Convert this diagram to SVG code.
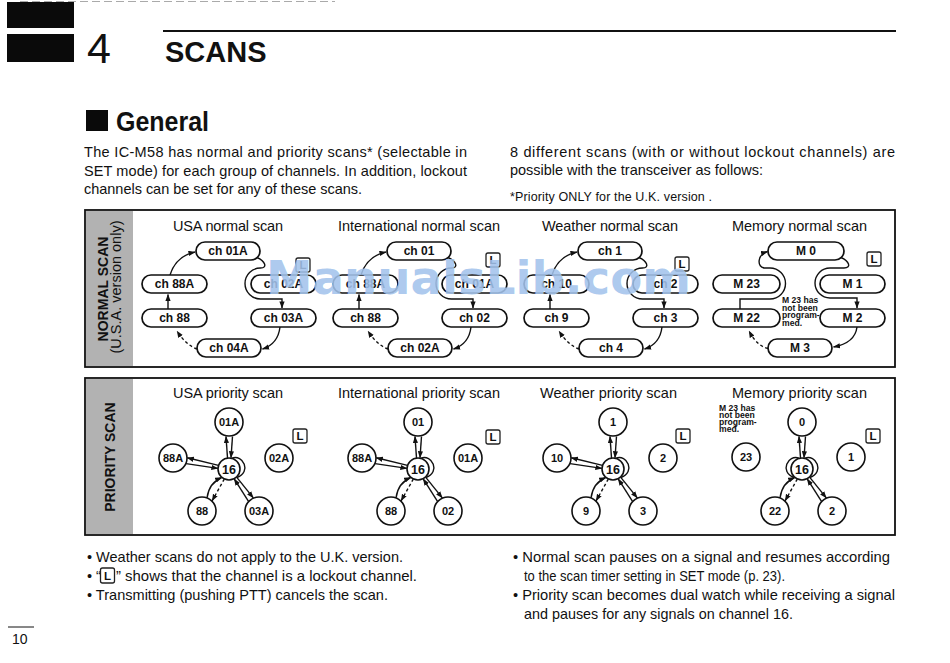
<svg xmlns="http://www.w3.org/2000/svg" width="950" height="663" viewBox="0 0 950 663">
<defs>
<marker id="ah" viewBox="0 0 8 6" refX="7.5" refY="3" markerWidth="7" markerHeight="5.5" markerUnits="userSpaceOnUse" orient="auto"><path d="M0 0 L8 3 L0 6 z" fill="#111"/></marker>
<style>
text{font-family:"Liberation Sans",Arial,sans-serif;fill:#111}
.pill{fill:#fff;stroke:#111;stroke-width:1.7}
.nt{font-weight:bold;font-size:12px;text-anchor:middle}
.circ{fill:#fff;stroke:#111;stroke-width:1.6}
.ct{font-weight:bold;font-size:11px;text-anchor:middle}
.c16{font-weight:bold;font-size:12.5px;text-anchor:middle}
.ln{fill:none;stroke:#111;stroke-width:1.4}
.dash{stroke-dasharray:3 2.5}
.lk{fill:#fff;stroke:#222;stroke-width:1.3}
.lkt{font-weight:bold;font-size:11.5px;text-anchor:middle}
.title{font-size:14.5px}
.body{font-size:14.5px}
.foot{font-size:14.5px}
.note{font-weight:bold;font-size:8.6px}
.panel{fill:#fff;stroke:#111;stroke-width:1.8}
.band{fill:#b2b2b2}
</style>
</defs>
<rect width="950" height="663" fill="#fff"/>

<!-- header -->
<g id="header">
<line x1="20" y1="1.5" x2="335" y2="1.5" stroke="#aaa" stroke-width="1" stroke-dasharray="8 4"/>
<rect x="7" y="2" width="67" height="26" fill="#0a0a0a"/>
<rect x="7" y="34" width="67" height="28" fill="#0a0a0a"/>
<text x="87" y="63" font-size="43">4</text>
<line x1="163" y1="31" x2="896" y2="31" stroke="#111" stroke-width="2"/>
<text x="165" y="62" font-size="29" font-weight="bold">SCANS</text>
<rect x="86" y="110" width="22" height="21" fill="#0a0a0a"/>
<text x="116" y="131" font-size="27" font-weight="bold" textLength="93" lengthAdjust="spacingAndGlyphs">General</text>
</g>

<g id="intro">
<text class="body" x="84" y="157" textLength="383">The IC-M58 has normal and priority scans* (selectable in</text>
<text class="body" x="84" y="175.5" textLength="383">SET mode) for each group of channels.  In addition, lockout</text>
<text class="body" x="84" y="193.5" textLength="278">channels can be set for any of these scans.</text>
<text class="body" x="510" y="157" textLength="385">8 different scans (with or without lockout channels) are</text>
<text class="body" x="510" y="175" textLength="253">possible with the transceiver as follows:</text>
<text x="510" y="201" font-size="12.5" textLength="202">*Priority ONLY for the U.K. version .</text>
</g>

<!-- panels -->
<g id="normal-panel">
<rect class="panel" x="85" y="210" width="810" height="157"/>
<rect class="band" x="86" y="211" width="47" height="155"/>
<text transform="translate(108,289) rotate(-90)" text-anchor="middle" font-weight="bold" font-size="14" fill="#1a1a1a">NORMAL SCAN</text>
<text transform="translate(121,287) rotate(-90)" text-anchor="middle" font-size="14.5" fill="#1a1a1a">(U.S.A. version only)</text>
<text class="title" x="173" y="231" textLength="110">USA normal scan</text>
<text class="title" x="338" y="231" textLength="162">International normal scan</text>
<text class="title" x="542" y="231" textLength="136">Weather normal scan</text>
<text class="title" x="732" y="231" textLength="135">Memory normal scan</text>
</g>
<g id="priority-panel">
<rect class="panel" x="85" y="378" width="810" height="157"/>
<rect class="band" x="86" y="379" width="47" height="155"/>
<text transform="translate(115,457) rotate(-90)" text-anchor="middle" font-weight="bold" font-size="14" fill="#1a1a1a">PRIORITY SCAN</text>
<text class="title" x="173" y="398" textLength="110">USA priority scan</text>
<text class="title" x="338" y="398" textLength="162">International priority scan</text>
<text class="title" x="540" y="398" textLength="137">Weather priority scan</text>
<text class="title" x="732" y="398" textLength="135">Memory priority scan</text>
</g>

<!-- connectors -->
<g id="connectors">
<g id="c-normal-usa">
<path class="ln" d="M257 257.5 C265 261 268 268 260.5 268 A15.5 15.5 0 0 0 260.5 299 L282 299 L282 308" marker-end="url(#ah)"/>
<path class="ln" d="M280 327 Q278 344 262.5 349" marker-end="url(#ah)"/>
<path class="ln dash" d="M197 349 Q186 345 177 331" marker-end="url(#ah)"/>
<path class="ln" d="M168 309 L168 294.5" marker-end="url(#ah)"/>
<path class="ln" d="M170 275 Q176 256 195 252" marker-end="url(#ah)"/>
</g>
<g id="c-normal-intl" transform="translate(191,0)">
<path class="ln" d="M257 257.5 C265 261 268 268 260.5 268 A15.5 15.5 0 0 0 260.5 299 L282 299 L282 308" marker-end="url(#ah)"/>
<path class="ln" d="M280 327 Q278 344 262.5 349" marker-end="url(#ah)"/>
<path class="ln dash" d="M197 349 Q186 345 177 331" marker-end="url(#ah)"/>
<path class="ln" d="M168 309 L168 294.5" marker-end="url(#ah)"/>
<path class="ln" d="M170 275 Q176 256 195 252" marker-end="url(#ah)"/>
</g>
<g id="c-normal-wx" transform="translate(382,0)">
<path class="ln" d="M257 257.5 C265 261 268 268 260.5 268 A15.5 15.5 0 0 0 260.5 299 L282 299 L282 308" marker-end="url(#ah)"/>
<path class="ln" d="M280 327 Q278 344 262.5 349" marker-end="url(#ah)"/>
<path class="ln dash" d="M197 349 Q186 345 177 331" marker-end="url(#ah)"/>
<path class="ln" d="M168 309 L168 294.5" marker-end="url(#ah)"/>
<path class="ln" d="M170 275 Q176 256 195 252" marker-end="url(#ah)"/>
</g>
<g id="c-normal-mem">
<path class="ln" d="M841 257.5 C849 261 852 268 844 268 L830 268 A15 15 0 0 0 830 298 L857 298 L857 308" marker-end="url(#ah)"/>
<path class="ln" d="M857 327 Q855 343 833.5 347" marker-end="url(#ah)"/>
<path class="ln dash" d="M768 348.5 Q757 346 749 331" marker-end="url(#ah)"/>
<path class="ln" d="M740 309 L740 299 L770 299 A15.5 15.5 0 0 0 770 268 L764 268 C757 266 757 255 767.5 251.5" marker-end="url(#ah)"/>
</g>
<g id="c-prio-usa" transform="translate(229,469)">
<path class="ln" d="M-1.5 -11 L-3 -32.5" marker-end="url(#ah)"/>
<path class="ln" d="M3.5 -32.5 L2 -11.2" marker-end="url(#ah)"/>
<path class="ln" d="M-10.5 -3.6 L-41.7 -11.2" marker-end="url(#ah)"/>
<path class="ln" d="M-42.9 -5.4 L-11.1 -0.6" marker-end="url(#ah)"/>
<path class="ln" d="M7.6 8.1 L24.3 28.9" marker-end="url(#ah)"/>
<path class="ln" d="M19.5 32.3 L5.2 9.9" marker-end="url(#ah)"/>
<path class="ln dash" d="M-4.7 10.1 L-16.9 31.8" marker-end="url(#ah)"/>
<path class="ln" d="M-21.9 28.6 Q-20 14 -7.3 8.5" marker-end="url(#ah)"/>
<path class="ln" d="M3 -10.8 C14 -15 23 3 8 8.5"/>
</g>
<g id="c-prio-intl" transform="translate(418,469)">
<path class="ln" d="M-1.5 -11 L-3 -32.5" marker-end="url(#ah)"/>
<path class="ln" d="M3.5 -32.5 L2 -11.2" marker-end="url(#ah)"/>
<path class="ln" d="M-10.5 -3.6 L-41.7 -11.2" marker-end="url(#ah)"/>
<path class="ln" d="M-42.9 -5.4 L-11.1 -0.6" marker-end="url(#ah)"/>
<path class="ln" d="M7.6 8.1 L24.3 28.9" marker-end="url(#ah)"/>
<path class="ln" d="M19.5 32.3 L5.2 9.9" marker-end="url(#ah)"/>
<path class="ln dash" d="M-4.7 10.1 L-16.9 31.8" marker-end="url(#ah)"/>
<path class="ln" d="M-21.9 28.6 Q-20 14 -7.3 8.5" marker-end="url(#ah)"/>
<path class="ln" d="M3 -10.8 C14 -15 23 3 8 8.5"/>
</g>
<g id="c-prio-wx" transform="translate(613,469)">
<path class="ln" d="M-1.5 -11 L-3 -32.5" marker-end="url(#ah)"/>
<path class="ln" d="M3.5 -32.5 L2 -11.2" marker-end="url(#ah)"/>
<path class="ln" d="M-10.5 -3.6 L-41.7 -11.2" marker-end="url(#ah)"/>
<path class="ln" d="M-42.9 -5.4 L-11.1 -0.6" marker-end="url(#ah)"/>
<path class="ln" d="M7.6 8.1 L24.3 28.9" marker-end="url(#ah)"/>
<path class="ln" d="M19.5 32.3 L5.2 9.9" marker-end="url(#ah)"/>
<path class="ln dash" d="M-4.7 10.1 L-16.9 31.8" marker-end="url(#ah)"/>
<path class="ln" d="M-21.9 28.6 Q-20 14 -7.3 8.5" marker-end="url(#ah)"/>
<path class="ln" d="M3 -10.8 C14 -15 23 3 8 8.5"/>
</g>
<g id="c-prio-mem" transform="translate(802,469)">
<path class="ln" d="M-1.5 -11 L-3 -32.5" marker-end="url(#ah)"/>
<path class="ln" d="M3.5 -32.5 L2 -11.2" marker-end="url(#ah)"/>
<path class="ln" d="M7.6 8.1 L24.3 28.9" marker-end="url(#ah)"/>
<path class="ln" d="M19.5 32.3 L5.2 9.9" marker-end="url(#ah)"/>
<path class="ln dash" d="M-4.7 10.1 L-16.9 31.8" marker-end="url(#ah)"/>
<path class="ln" d="M-21.9 28.6 Q-20 14 -7.3 8.5" marker-end="url(#ah)"/>
<path class="ln" d="M3 -10.8 C14 -15 23 3 8 8.5"/>
<path class="ln" d="M-3 -10.8 C-14 -15 -23 3 -8 8.5"/>
</g>
</g>

<!-- normal scan nodes -->
<g id="n-usa-01a"><rect class="pill" x="196" y="242" width="64" height="18" rx="9"/><text class="nt" x="228" y="255.3">ch 01A</text></g>
<g id="n-usa-88a"><rect class="pill" x="142" y="275" width="65" height="18" rx="9"/><text class="nt" x="174.5" y="288.3">ch 88A</text></g>
<g id="n-usa-02a"><rect class="pill" x="251" y="275" width="65" height="18" rx="9"/><text class="nt" x="283.5" y="288.3">ch 02A</text></g>
<g id="n-usa-88"><rect class="pill" x="142" y="309" width="65" height="18" rx="9"/><text class="nt" x="174.5" y="322.3">ch 88</text></g>
<g id="n-usa-03a"><rect class="pill" x="251" y="309" width="65" height="18" rx="9"/><text class="nt" x="283.5" y="322.3">ch 03A</text></g>
<g id="n-usa-04a"><rect class="pill" x="197" y="339" width="64" height="18" rx="9"/><text class="nt" x="229" y="352.3">ch 04A</text></g>
<g id="lk-usa-n"><rect class="lk" x="296" y="258" width="14" height="14" rx="2"/><text class="lkt" x="303" y="269">L</text></g>

<g id="n-int-01"><rect class="pill" x="387" y="242" width="64" height="18" rx="9"/><text class="nt" x="419" y="255.3">ch 01</text></g>
<g id="n-int-88a"><rect class="pill" x="333" y="275" width="65" height="18" rx="9"/><text class="nt" x="365.5" y="288.3">ch 88A</text></g>
<g id="n-int-01a"><rect class="pill" x="442" y="275" width="65" height="18" rx="9"/><text class="nt" x="474.5" y="288.3">ch 01A</text></g>
<g id="n-int-88"><rect class="pill" x="333" y="309" width="65" height="18" rx="9"/><text class="nt" x="365.5" y="322.3">ch 88</text></g>
<g id="n-int-02"><rect class="pill" x="442" y="309" width="65" height="18" rx="9"/><text class="nt" x="474.5" y="322.3">ch 02</text></g>
<g id="n-int-02a"><rect class="pill" x="388" y="339" width="64" height="18" rx="9"/><text class="nt" x="420" y="352.3">ch 02A</text></g>
<g id="lk-int-n"><rect class="lk" x="486" y="253" width="14" height="14" rx="2"/><text class="lkt" x="493" y="264">L</text></g>

<g id="n-wx-1"><rect class="pill" x="578" y="242" width="64" height="18" rx="9"/><text class="nt" x="610" y="255.3">ch 1</text></g>
<g id="n-wx-10"><rect class="pill" x="524" y="275" width="65" height="18" rx="9"/><text class="nt" x="556.5" y="288.3">ch 10</text></g>
<g id="n-wx-2"><rect class="pill" x="633" y="275" width="65" height="18" rx="9"/><text class="nt" x="665.5" y="288.3">ch 2</text></g>
<g id="n-wx-9"><rect class="pill" x="524" y="309" width="65" height="18" rx="9"/><text class="nt" x="556.5" y="322.3">ch 9</text></g>
<g id="n-wx-3"><rect class="pill" x="633" y="309" width="65" height="18" rx="9"/><text class="nt" x="665.5" y="322.3">ch 3</text></g>
<g id="n-wx-4"><rect class="pill" x="579" y="339" width="64" height="18" rx="9"/><text class="nt" x="611" y="352.3">ch 4</text></g>
<g id="lk-wx-n"><rect class="lk" x="675" y="257" width="14" height="14" rx="2"/><text class="lkt" x="682" y="268">L</text></g>

<g id="n-mem-0"><rect class="pill" x="768" y="242" width="76" height="18" rx="9"/><text class="nt" x="806" y="255.3">M 0</text></g>
<g id="n-mem-23"><rect class="pill" x="713" y="275" width="67" height="18" rx="9"/><text class="nt" x="746.5" y="288.3">M 23</text></g>
<g id="n-mem-1"><rect class="pill" x="820" y="275" width="65" height="18" rx="9"/><text class="nt" x="852.5" y="288.3">M 1</text></g>
<g id="n-mem-22"><rect class="pill" x="713" y="309" width="67" height="18" rx="9"/><text class="nt" x="746.5" y="322.3">M 22</text></g>
<g id="n-mem-2"><rect class="pill" x="820" y="309" width="65" height="18" rx="9"/><text class="nt" x="852.5" y="322.3">M 2</text></g>
<g id="n-mem-3"><rect class="pill" x="768" y="339" width="64" height="18" rx="9"/><text class="nt" x="800" y="352.3">M 3</text></g>
<g id="lk-mem-n"><rect class="lk" x="867" y="252" width="14" height="14" rx="2"/><text class="lkt" x="874" y="263">L</text></g>
<g id="note-mem-n"><text class="note" x="782" y="303">M 23 has</text><text class="note" x="782" y="310.7">not been</text><text class="note" x="782" y="318.4">program-</text><text class="note" x="782" y="326">med.</text></g>

<!-- priority scan nodes -->
<g id="p-usa-16"><circle class="circ" cx="229" cy="469" r="11"/><text class="c16" x="229" y="473.5">16</text></g>
<g id="p-usa-01a"><circle class="circ" cx="229" cy="422" r="14"/><text class="ct" x="229" y="425.8">01A</text></g>
<g id="p-usa-88a"><circle class="circ" cx="173" cy="458" r="14"/><text class="ct" x="173" y="461.8">88A</text></g>
<g id="p-usa-02a"><circle class="circ" cx="279" cy="458" r="14"/><text class="ct" x="279" y="461.8">02A</text></g>
<g id="p-usa-88"><circle class="circ" cx="202" cy="511" r="14"/><text class="ct" x="202" y="514.8">88</text></g>
<g id="p-usa-03a"><circle class="circ" cx="259" cy="511" r="14"/><text class="ct" x="259" y="514.8">03A</text></g>
<g id="lk-usa-p"><rect class="lk" x="293" y="429" width="14" height="14" rx="2"/><text class="lkt" x="300" y="440">L</text></g>

<g id="p-int-16"><circle class="circ" cx="418" cy="469" r="11"/><text class="c16" x="418" y="473.5">16</text></g>
<g id="p-int-01"><circle class="circ" cx="418" cy="422" r="14"/><text class="ct" x="418" y="425.8">01</text></g>
<g id="p-int-88a"><circle class="circ" cx="362" cy="458" r="14"/><text class="ct" x="362" y="461.8">88A</text></g>
<g id="p-int-01a"><circle class="circ" cx="468" cy="458" r="14"/><text class="ct" x="468" y="461.8">01A</text></g>
<g id="p-int-88"><circle class="circ" cx="391" cy="511" r="14"/><text class="ct" x="391" y="514.8">88</text></g>
<g id="p-int-02"><circle class="circ" cx="448" cy="511" r="14"/><text class="ct" x="448" y="514.8">02</text></g>
<g id="lk-int-p"><rect class="lk" x="486" y="430" width="14" height="14" rx="2"/><text class="lkt" x="493" y="441">L</text></g>

<g id="p-wx-16"><circle class="circ" cx="613" cy="469" r="11"/><text class="c16" x="613" y="473.5">16</text></g>
<g id="p-wx-1"><circle class="circ" cx="613" cy="422" r="14"/><text class="ct" x="613" y="425.8">1</text></g>
<g id="p-wx-10"><circle class="circ" cx="557" cy="458" r="14"/><text class="ct" x="557" y="461.8">10</text></g>
<g id="p-wx-2"><circle class="circ" cx="663" cy="458" r="14"/><text class="ct" x="663" y="461.8">2</text></g>
<g id="p-wx-9"><circle class="circ" cx="586" cy="511" r="14"/><text class="ct" x="586" y="514.8">9</text></g>
<g id="p-wx-3"><circle class="circ" cx="643" cy="511" r="14"/><text class="ct" x="643" y="514.8">3</text></g>
<g id="lk-wx-p"><rect class="lk" x="676" y="429" width="14" height="14" rx="2"/><text class="lkt" x="683" y="440">L</text></g>

<g id="p-mem-16"><circle class="circ" cx="802" cy="469" r="11"/><text class="c16" x="802" y="473.5">16</text></g>
<g id="p-mem-0"><circle class="circ" cx="802" cy="422" r="14"/><text class="ct" x="802" y="425.8">0</text></g>
<g id="p-mem-23"><circle class="circ" cx="746" cy="457" r="14"/><text class="ct" x="746" y="460.8">23</text></g>
<g id="p-mem-1"><circle class="circ" cx="851" cy="457" r="14"/><text class="ct" x="851" y="460.8">1</text></g>
<g id="p-mem-22"><circle class="circ" cx="775" cy="511" r="14"/><text class="ct" x="775" y="514.8">22</text></g>
<g id="p-mem-2"><circle class="circ" cx="832" cy="511" r="14"/><text class="ct" x="832" y="514.8">2</text></g>
<g id="lk-mem-p"><rect class="lk" x="866" y="429" width="14" height="14" rx="2"/><text class="lkt" x="873" y="440">L</text></g>
<g id="note-mem-p"><text class="note" x="719" y="410.5">M 23 has</text><text class="note" x="719" y="417.7">not been</text><text class="note" x="719" y="424.9">program-</text><text class="note" x="719" y="432">med.</text></g>

<!-- footnotes -->
<g id="notes">
<text class="foot" x="87" y="562" textLength="316" lengthAdjust="spacingAndGlyphs">• Weather scans do not apply to the U.K. version.</text>
<text class="foot" x="87" y="581">• “</text>
<rect class="lk" x="100.5" y="568" width="14" height="15" rx="2"/><text class="lkt" x="107.5" y="580">L</text>
<text class="foot" x="116" y="581" textLength="301" lengthAdjust="spacingAndGlyphs">” shows that the channel is a lockout channel.</text>
<text class="foot" x="87" y="600" textLength="301" lengthAdjust="spacingAndGlyphs">• Transmitting (pushing PTT) cancels the scan.</text>
<text class="foot" x="513" y="562" textLength="377" lengthAdjust="spacingAndGlyphs">• Normal scan pauses on a signal and resumes according</text>
<text class="foot" x="524" y="581" textLength="261" lengthAdjust="spacingAndGlyphs">to the scan timer setting in SET mode (p. 23).</text>
<text class="foot" x="513" y="600" textLength="382" lengthAdjust="spacingAndGlyphs">• Priority scan becomes dual watch while receiving a signal</text>
<text class="foot" x="524" y="619" textLength="269" lengthAdjust="spacingAndGlyphs">and pauses for any signals on channel 16.</text>
<line x1="8" y1="627" x2="34" y2="627" stroke="#111" stroke-width="1"/>
<text x="12" y="644" font-size="14">10</text>
</g>

<!-- watermark -->
<g id="watermark">
<text x="266" y="294" font-weight="bold" font-size="46" textLength="425" lengthAdjust="spacingAndGlyphs" style="font-family:'DejaVu Sans',sans-serif;fill:#a3c3ec;fill-opacity:0.9">ManualsLib.com</text>
</g>
</svg>
